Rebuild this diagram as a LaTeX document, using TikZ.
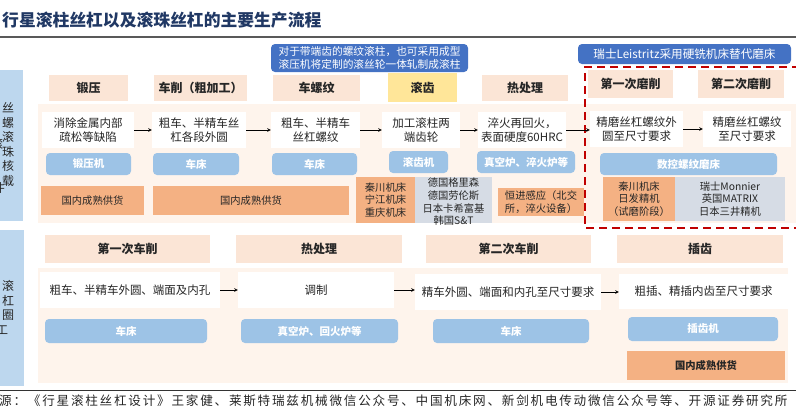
\documentclass[tikz,border=0pt]{standalone}
\usepackage{fontspec}
\setmainfont{Noto Sans CJK SC}
\newfontfamily\sumberfont[LetterSpace=14]{Noto Sans CJK SC}
\usepackage{xcolor}
\usepackage{tikz}

\definecolor{judul}{HTML}{203864}
\definecolor{krem}{HTML}{FBE5D6}
\definecolor{kuning}{HTML}{FFE699}
\definecolor{latar}{HTML}{FEF4EC}
\definecolor{biru}{HTML}{9DC3E6}
\definecolor{birutua}{HTML}{4472C4}
\definecolor{oranye}{HTML}{F4B183}
\definecolor{abu}{HTML}{D6DCE5}
\definecolor{labelbiru}{HTML}{BDD7EE}
\definecolor{merah}{HTML}{C00000}

\begin{document}
\begin{tikzpicture}[
				x=1pt, y=-1pt,
				tahap/.style={rectangle, fill=krem, inner sep=0pt, align=center, font=\bfseries\fontsize{12}{14}\selectfont, text=black!85},
				proses/.style={rectangle, fill=white, inner sep=0pt, align=center, font=\fontsize{11.5}{14.5}\selectfont, text=black!85},
				mesin/.style={rectangle, rounded corners=4pt, fill=biru, inner sep=0pt, align=center, font=\bfseries\fontsize{10.5}{12}\selectfont, text=white},
				pemasok/.style={rectangle, fill=oranye, inner sep=0pt, align=center, font=\fontsize{10.3}{12.8}\selectfont, text=black!85},
				asing/.style={rectangle, fill=abu, inner sep=0pt, align=center, font=\fontsize{10.3}{12.7}\selectfont, text=black!85},
				catatan/.style={rectangle, rounded corners=4pt, fill=birutua, inner sep=0pt, align=center, font=\fontsize{10.7}{12.5}\selectfont, text=white},
				samping/.style={rectangle, fill=labelbiru, inner sep=0pt},
				huruf/.style={inner sep=0pt, font=\fontsize{12}{14.5}\selectfont, text=black!85, align=center},
				panah/.style={->, >=stealth, semithick}
			]
			\useasboundingbox (0,0) rectangle (796,408);

			% Judul dan garis
			\node[anchor=west, inner sep=0pt, font=\bfseries\fontsize{16.8}{18}\selectfont, text=judul] (judul) at (2,20) {行星滚柱丝杠以及滚珠丝杠的主要生产流程};
			\draw[line width=1.6pt, black!65] (0,37) -- (796,37);
			\draw[line width=0.9pt, black!80] (0,390) -- (796,390);
			\node[anchor=west, inner sep=0pt, font=\sumberfont\fontsize{12.6}{14}\selectfont, text=black!85] (sumber) at (-1,401) {源：《行星滚柱丝杠设计》王家健、莱斯特瑞兹机械微信公众号、中国机床网、新剑机电传动微信公众号等、开源证券研究所};

			% Latar
			\fill[latar] (38,104) rectangle (796,223);
			\fill[latar] (38,268) rectangle (788,383);

			% Label samping
			\node[samping, minimum width=23pt, minimum height=151pt] (atas) at (11.5,145.5) {};
			\node[samping, minimum width=24pt, minimum height=156pt] (bawah) at (12,308) {};
			\node[huruf] (kol1) at (8,144.5) {丝\\螺\\滚\\珠\\核\\载};
			\node[huruf] (kol1a) at (-3,144) {滚};
			\node[huruf] (kol1b) at (-1,188) {件};
			\node[huruf] (kol2) at (8,300.5) {滚\\杠\\圈};
			\node[huruf] (kol2a) at (2,330) {工};

			% Catatan
			\node[catatan, minimum width=197pt, minimum height=28pt] (cat1) at (369.5,58) {对于带端齿的螺纹滚柱，也可采用成型\\滚压机将定制的滚丝轮一体轧制成滚柱};
			\node[catatan, minimum width=213pt, minimum height=20pt, font=\fontsize{11.6}{13}\selectfont] (cat2) at (684.5,54) {瑞士Leistritz采用硬铣机床替代磨床};

			% Tahap丝杠
			\node[tahap, minimum width=79pt, minimum height=26pt] (t1) at (88.5,88) {锻压};
			\node[tahap, minimum width=93pt, minimum height=26pt] (t2) at (200.5,88) {车削（粗加工）};
			\node[tahap, minimum width=87pt, minimum height=26pt] (t3) at (316.5,88) {车螺纹};
			\node[tahap, fill=kuning, minimum width=69pt, minimum height=29pt] (t4) at (422.5,87.5) {滚齿};
			\node[tahap, minimum width=86pt, minimum height=26pt] (t5) at (525,88) {热处理};
			\node[tahap, minimum width=85pt, minimum height=28pt] (t6) at (630.5,84) {第一次磨削};
			\node[tahap, minimum width=86pt, minimum height=28pt] (t7) at (741,84) {第二次磨削};

			\node[proses, minimum width=92pt, minimum height=36pt] (p1) at (88,130) {消除金属内部\\疏松等缺陷};
			\node[proses, minimum width=94pt, minimum height=36pt] (p2) at (199,130) {粗车、半精车丝\\杠各段外圆};
			\node[proses, minimum width=89pt, minimum height=36pt] (p3) at (315.5,130) {粗车、半精车\\丝杠螺纹};
			\node[proses, minimum width=78pt, minimum height=36pt] (p4) at (421,130) {加工滚柱两\\端齿轮};
			\node[proses, minimum width=88pt, minimum height=36pt] (p5) at (522,130) {淬火再回火，\\表面硬度60HRC};
			\node[proses, minimum width=93pt, minimum height=36pt] (p6) at (636.5,129) {精磨丝杠螺纹外\\圆至尺寸要求};
			\node[proses, minimum width=88pt, minimum height=36pt] (p7) at (747,129) {精磨丝杠螺纹\\至尺寸要求};

			\node[mesin, minimum width=85pt, minimum height=22pt] (m1) at (88.5,164) {锻压机};
			\node[mesin, minimum width=86pt, minimum height=22pt] (m2) at (196,164) {车床};
			\node[mesin, minimum width=85pt, minimum height=22pt] (m3) at (314.5,164) {车床};
			\node[mesin, minimum width=59pt, minimum height=22pt] (m4) at (418.5,162) {滚齿机};
			\node[mesin, minimum width=98pt, minimum height=22pt] (m5) at (526,162) {真空炉、淬火炉等};
			\node[mesin, minimum width=177pt, minimum height=22pt] (m6) at (688.5,164) {数控螺纹磨床};

			\node[pemasok, minimum width=103pt, minimum height=29pt] (s1) at (92.5,200.5) {国内成熟供货};
			\node[pemasok, minimum width=196pt, minimum height=29pt] (s2) at (251,200.5) {国内成熟供货};
			\node[pemasok, minimum width=59pt, minimum height=46pt] (s3) at (385.5,200) {秦川机床\\宁江机床\\重庆机床};
			\node[asing, minimum width=77pt, minimum height=46pt] (f1) at (453.5,200) {};
			\node[asing, fill=none] (f1t) at (453.5,202) {德国格里森\\德国劳伦斯\\日本卡希富基\\韩国S\&T};
			\node[pemasok, minimum width=86pt, minimum height=28pt] (s4) at (541,202) {恒进感应（北交\\所，淬火设备）};
			\node[pemasok, minimum width=72pt, minimum height=44pt] (s5) at (639,199) {秦川机床\\日发精机\\（试磨阶段）};
			\node[asing, minimum width=110pt, minimum height=44pt] (f2) at (730,199) {瑞士Monnier\\英国MATRIX\\日本三井精机};

			% Kotak硬铣
			\draw[merah, line width=1.8pt, dash pattern=on 8pt off 5pt] (800,67) -- (585,67) -- (585,228) -- (800,228);

			% Tahap滚杠圈
			\node[tahap, minimum width=165pt, minimum height=28pt] (t8) at (127.5,249) {第一次车削};
			\node[tahap, minimum width=166pt, minimum height=28pt] (t9) at (319,249) {热处理};
			\node[tahap, minimum width=165pt, minimum height=28pt] (t10) at (508.5,249) {第二次车削};
			\node[tahap, minimum width=166pt, minimum height=28pt] (t11) at (700,249) {插齿};

			\node[proses, minimum width=180pt, minimum height=36pt] (q1) at (130,290) {粗车、半精车外圆、端面及内孔};
			\node[proses, minimum width=156pt, minimum height=36pt] (q2) at (316,290) {调制};
			\node[proses, minimum width=186pt, minimum height=36pt] (q3) at (508,292) {精车外圆、端面和内孔至尺寸要求};
			\node[proses, minimum width=169pt, minimum height=35pt] (q4) at (703.5,291.5) {粗插、精插内齿至尺寸要求};

			\node[mesin, minimum width=162pt, minimum height=24pt] (n1) at (126,331) {车床};
			\node[mesin, minimum width=157pt, minimum height=24pt] (n2) at (319.5,331) {真空炉、回火炉等};
			\node[mesin, minimum width=156pt, minimum height=24pt] (n3) at (511,331) {车床};
			\node[mesin, minimum width=150pt, minimum height=24pt] (n4) at (703,329) {插齿机};

			\node[pemasok, font=\bfseries\fontsize{10.3}{12.8}\selectfont, minimum width=158pt, minimum height=29pt] (s6) at (706,365.5) {国内成熟供货};

			% Alur
			\draw[panah] (p1) -- (p2);
			\draw[panah] (p2) -- (p3);
			\draw[panah] (p3) -- (p4);
			\draw[panah] (p4) -- (p5);
			\draw[panah] (p5.east) -- (p6.west |- p5.east);
			\draw[panah] (p6) -- (p7);
			\draw[panah] (q1) -- (q2);
			\draw[panah] (q2.east) -- (q3.west |- q2.east);
			\draw[panah] (q3.east) -- (q4.west |- q3.east);
		\end{tikzpicture}
\end{document}
